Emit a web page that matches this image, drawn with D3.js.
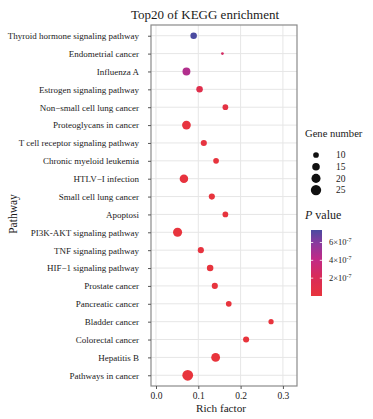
<!DOCTYPE html>
<html>
<head>
<meta charset="utf-8">
<script src="https://cdn.jsdelivr.net/npm/d3@7"></script>
<style>
html,body{margin:0;padding:0;background:#fff;}
svg{display:block;}
text{font-family:"Liberation Serif","Times New Roman",serif;fill:#1a1a1a;}
</style>
</head>
<body>
<div id="chart"></div>
<script>
// ---- data (top to bottom as shown) ----
const pathways = [
  "Thyroid hormone signaling pathway","Endometrial cancer","Influenza A",
  "Estrogen signaling pathway","Non−small cell lung cancer","Proteoglycans in cancer",
  "T cell receptor signaling pathway","Chronic myeloid leukemia","HTLV−I infection",
  "Small cell lung cancer","Apoptosi","PI3K-AKT signaling pathway","TNF signaling pathway",
  "HIF−1 signaling pathway","Prostate cancer","Pancreatic cancer","Bladder cancer",
  "Colorectal cancer","Hepatitis B","Pathways in cancer"
];
const richFactor = [0.089,0.157,0.072,0.103,0.164,0.072,0.113,0.142,0.066,0.132,
                    0.164,0.051,0.106,0.128,0.139,0.172,0.272,0.213,0.141,0.075];
const geneNumber = [12,5,16,12,10,19,11,10,18,11,10,20,11,12,11,10,9,11,19,27];
const pValue = [7.4e-7,2.6e-7,4.6e-7,1.2e-7,0.6e-7,0.2e-7,0.3e-7,0.1e-7,0.15e-7,0.1e-7,
                0.1e-7,0.05e-7,0.2e-7,0.1e-7,0.1e-7,0.05e-7,0.05e-7,0.02e-7,0.01e-7,0.0001e-7];
const xTicks = [0,0.1,0.2,0.3];
const sizeBreaks = [10,15,20,25];
const pBreaks = [2e-7,4e-7,6e-7];
const pBreakLabels = ["2×10","4×10","6×10"];
const gradientColors = ["#E8343C","#D82B5A","#C22A86","#8A3A9E","#4A4AA0"];
const gradientStops = [0,0.3,0.55,0.8,1];

const W = 373, H = 419;
const panel = {l:151, r:297, t:25, b:386};

const svg = d3.select("#chart").append("svg").attr("width",W).attr("height",H);

const x = d3.scaleLinear().domain([-0.0118,0.3333]).range([panel.l,panel.r]);
const y = d3.scalePoint().domain(pathways).range([panel.t,panel.b]).padding(0.6);
const r = d3.scaleRadial().domain([5,27]).range([1.4,5.4]);
const pExt = d3.extent(pValue);
const color = d3.scaleLinear()
  .domain(gradientStops.map(f=>pExt[0]+f*(pExt[1]-pExt[0])))
  .range(gradientColors).interpolate(d3.interpolateRgb);

// panel background + grid
svg.append("rect").attr("x",panel.l).attr("y",panel.t)
  .attr("width",panel.r-panel.l).attr("height",panel.b-panel.t).attr("fill","#fff");
svg.append("g").selectAll("line").data(pathways).join("line")
  .attr("x1",panel.l).attr("x2",panel.r).attr("y1",d=>y(d)).attr("y2",d=>y(d))
  .attr("stroke","#e6e6e6").attr("stroke-width",1);
svg.append("g").selectAll("line").data(xTicks).join("line")
  .attr("x1",d=>x(d)).attr("x2",d=>x(d)).attr("y1",panel.t).attr("y2",panel.b)
  .attr("stroke","#e6e6e6").attr("stroke-width",1);

// points
svg.append("g").selectAll("circle").data(pathways).join("circle")
  .attr("cx",(d,i)=>x(richFactor[i])).attr("cy",d=>y(d))
  .attr("r",(d,i)=>r(geneNumber[i])).attr("fill",(d,i)=>color(pValue[i]));

// border
svg.append("rect").attr("x",panel.l).attr("y",panel.t)
  .attr("width",panel.r-panel.l).attr("height",panel.b-panel.t)
  .attr("fill","none").attr("stroke","#8a8a8a").attr("stroke-width",1.2);

// axes
const yAxis = d3.axisLeft(y).tickSize(3).tickPadding(9);
const gy = svg.append("g").attr("transform",`translate(${panel.l},0)`).call(yAxis);
gy.select(".domain").remove();
gy.selectAll(".tick line").attr("stroke","#555");
gy.selectAll(".tick text").style("font-family","Liberation Serif").style("font-size","9px").attr("fill","#111");

const xAxis = d3.axisBottom(x).tickValues(xTicks).tickFormat(d3.format(".1f")).tickSize(3).tickPadding(3);
const gx = svg.append("g").attr("transform",`translate(0,${panel.b})`).call(xAxis);
gx.select(".domain").remove();
gx.selectAll(".tick line").attr("stroke","#555");
gx.selectAll(".tick text").style("font-family","Liberation Serif").style("font-size","9.5px").attr("fill","#111");

// titles
svg.append("text").attr("x",205).attr("y",19).attr("text-anchor","middle")
  .style("font-size","13px").text("Top20 of KEGG enrichment");
svg.append("text").attr("x",221).attr("y",412).attr("text-anchor","middle")
  .style("font-size","11.2px").text("Rich factor");
svg.append("text").attr("transform","translate(17,214) rotate(-90)").attr("text-anchor","middle")
  .style("font-size","11.5px").text("Pathway");

// size legend
svg.append("text").attr("x",305).attr("y",137).style("font-size","10.6px").text("Gene number");
const sl = svg.append("g").selectAll("g").data(sizeBreaks).join("g")
  .attr("transform",(d,i)=>`translate(0,${155+i*11.7})`);
sl.append("circle").attr("cx",316).attr("cy",0).attr("r",d=>r(d)).attr("fill","#111");
sl.append("text").attr("x",336).attr("y",3.3).style("font-size","9.5px").text(d=>d);

// colour legend
svg.append("text").attr("x",305).attr("y",219).style("font-size","12px")
  .call(t=>{t.append("tspan").style("font-style","italic").text("P");t.append("tspan").text(" value");});
const bar = {x:311, w:11, top:230, bot:296};
const cy = d3.scaleLinear().domain(pExt).range([bar.bot,bar.top]);
const grad = svg.append("defs").append("linearGradient").attr("id","pg")
  .attr("x1",0).attr("y1",1).attr("x2",0).attr("y2",0);
d3.range(0,1.0001,0.05).forEach(f=>{
  grad.append("stop").attr("offset",f).attr("stop-color",color(pExt[0]+f*(pExt[1]-pExt[0])));
});
svg.append("rect").attr("x",bar.x).attr("y",bar.top).attr("width",bar.w)
  .attr("height",bar.bot-bar.top).attr("fill","url(#pg)");
const cl = svg.append("g").selectAll("g").data(pBreaks).join("g")
  .attr("transform",d=>`translate(0,${cy(d)})`);
cl.append("line").attr("x1",bar.x).attr("x2",bar.x+2.2).attr("stroke","#fff").attr("stroke-width",0.8);
cl.append("line").attr("x1",bar.x+bar.w-2.2).attr("x2",bar.x+bar.w).attr("stroke","#fff").attr("stroke-width",0.8);
cl.append("text").attr("x",329).attr("y",3).style("font-size","8.5px")
  .call(t=>{
    t.append("tspan").text((d,i)=>pBreakLabels[i]);
    t.append("tspan").attr("dy",-3.5).style("font-size","6px").text("-7");
  });
</script>
</body>
</html>
